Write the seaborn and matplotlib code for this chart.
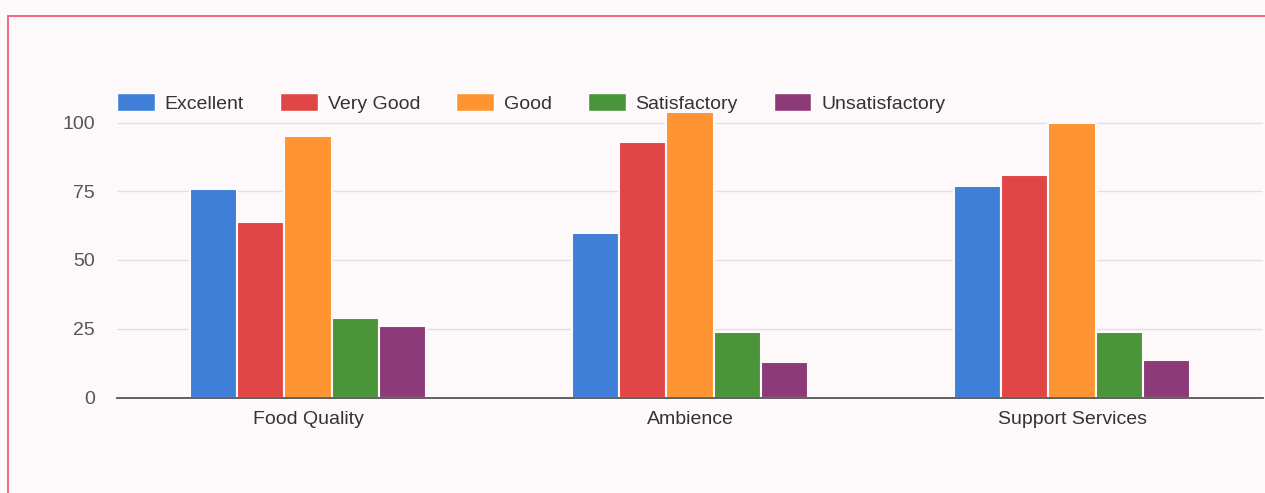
#
# grouped bar chart: feedback ratings per aspect
#
import pandas as pd
import numpy as np
import matplotlib
matplotlib.use('Agg')
import matplotlib.pyplot as plt
from matplotlib.patches import Rectangle
import seaborn as sns

# categories and series
aspects = ['Food Quality', 'Ambience', 'Support Services']
ratings = ['Excellent', 'Very Good', 'Good', 'Satisfactory', 'Unsatisfactory']
excellent = [76, 60, 77]
very_good = [64, 93, 81]
good = [95, 104, 100]
satisfactory = [29, 24, 24]
unsatisfactory = [26, 13, 13.5]
y_ticks = [0, 25, 50, 75, 100]

colors = ['#3f7fd8', '#e04646', '#ff9433', '#4a943a', '#8c3a78']

# long table for seaborn
series = [excellent, very_good, good, satisfactory, unsatisfactory]
rows = []
for r, vals in zip(ratings, series):
    for a, v in zip(aspects, vals):
        rows.append({'aspect': a, 'rating': r, 'score': v})
df = pd.DataFrame(rows)

#---
# figure
#---
sns.set_style('white')
plt.rcParams['font.family'] = ['Liberation Sans', 'DejaVu Sans']

bg = '#fdf9fb'
fig = plt.figure(figsize=(12.65, 4.93), dpi=100, facecolor=bg)
ax = fig.add_axes([117/1265, 95.5/493, 1146/1265, 302.5/493])
ax.set_facecolor(bg)

sns.barplot(data=df, x='aspect', y='score', hue='rating', order=aspects,
            hue_order=ratings, palette=colors, width=0.62, dodge=True,
            edgecolor=bg, linewidth=1.5, saturation=1, errorbar=None, ax=ax)

ax.set_ylim(0, 110)
ax.set_xlim(-0.5, 2.5)
ax.set_yticks(y_ticks)
ax.set_xlabel('')
ax.set_ylabel('')
ax.yaxis.grid(True, color='#e2e0e2', linewidth=1)
ax.set_axisbelow(True)
for s in ['top', 'right', 'left']:
    ax.spines[s].set_visible(False)
ax.spines['bottom'].set_color('#555555')
ax.spines['bottom'].set_linewidth(1.3)
ax.tick_params(axis='y', length=0, pad=16, labelsize=14, labelcolor='#555555')
ax.tick_params(axis='x', length=0, pad=10, labelsize=14, labelcolor='#333333')

# legend on top, one row
ax.get_legend().remove()
handles = [Rectangle((0, 0), 1, 1, facecolor=c) for c in colors]
fig.legend(handles, ratings, loc='center left',
           bbox_to_anchor=(117/1265, (493-103)/493), ncol=5, frameon=False,
           fontsize=14, handlelength=1.95, handleheight=1.0,
           handletextpad=0.5, columnspacing=1.85, borderpad=0,
           borderaxespad=0, labelcolor='#333333')

# red frame round the chart
fig.patches.append(Rectangle((8/1265, -0.02), 1.1, (493-16)/493 + 0.02,
                             transform=fig.transFigure, fill=False,
                             edgecolor='#f25a7a', linewidth=1.3))

plt.savefig('out.png', dpi=100, facecolor=bg)
plt.close()
